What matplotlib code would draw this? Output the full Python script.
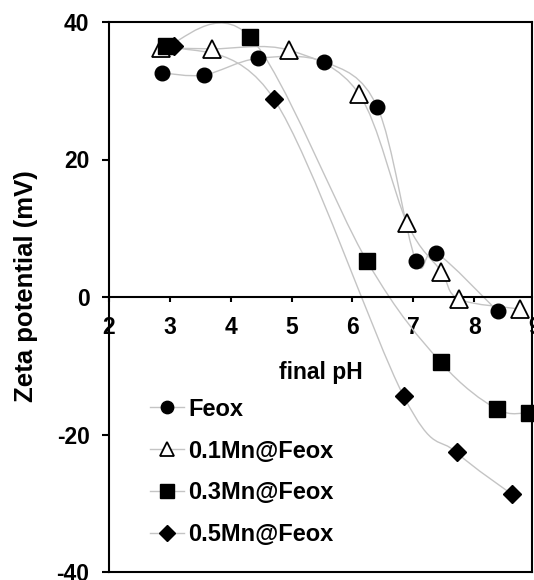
import numpy as np
import matplotlib
matplotlib.use('Agg')
import matplotlib.pyplot as plt
from matplotlib.path import Path
from matplotlib.patches import PathPatch
from matplotlib.lines import Line2D
import matplotlib.transforms as mtransforms

plt.rcParams['font.family'] = ['Liberation Sans', 'DejaVu Sans']
plt.rcParams['font.weight'] = 'bold'
plt.rcParams['axes.unicode_minus'] = False

# 측정값 (final pH, zeta potential mV)
ph_feox = [2.87, 3.56, 4.44, 5.54, 6.41, 7.04, 7.38, 8.39]
zp_feox = [32.6, 32.3, 34.7, 34.2, 27.6, 5.3, 6.4, -2.1]

ph_mn01 = [2.86, 3.69, 4.96, 6.11, 6.90, 7.46, 7.75, 8.75]
zp_mn01 = [36.2, 36.1, 35.9, 29.5, 10.7, 3.7, -0.3, -1.75]

ph_mn03 = [2.94, 4.32, 6.24, 7.45, 8.37, 8.90]
zp_mn03 = [36.5, 37.8, 5.2, -9.5, -16.3, -16.8]

ph_mn05 = [3.06, 4.71, 6.84, 7.71, 8.62]
zp_mn05 = [36.5, 28.8, -14.4, -22.6, -28.7]

labels = ['Feox', '0.1Mn@Feox', '0.3Mn@Feox', '0.5Mn@Feox']
x_ticks = [2, 3, 4, 5, 6, 7, 8]
y_ticks = [-40, -20, 0, 20, 40]

LINE_GRAY = '#c4c4c4'
TICK_FS = 16.5


# 엑셀 스타일 부드러운 곡선 (베지어)
def smooth_path(xs, ys):
    p = np.column_stack([xs, ys])
    n = len(p)
    verts = [p[0]]
    codes = [Path.MOVETO]
    for i in range(n - 1):
        p0 = p[max(i - 1, 0)]
        p1 = p[i]
        p2 = p[i + 1]
        p3 = p[min(i + 2, n - 1)]
        c1 = p1 + (p2 - p0) / 6.0
        c2 = p2 - (p3 - p1) / 6.0
        verts += [c1, c2, p2]
        codes += [Path.CURVE4] * 3
    return Path(verts, codes)


fig = plt.figure(figsize=(5.34, 5.80), dpi=100)
ax = fig.add_axes([109 / 534, 8 / 580, 423 / 534, 550 / 580])

series = [
    (ph_feox, zp_feox, dict(marker='o', ms=10.5, mfc='black', mec='black')),
    (ph_mn01, zp_mn01, dict(marker='^', ms=12.5, mfc='white', mec='black', mew=1.3)),
    (ph_mn03, zp_mn03, dict(marker='s', ms=11.5, mfc='black', mec='black')),
    (ph_mn05, zp_mn05, dict(marker='D', ms=9, mfc='black', mec='black')),
]

handles = []
for (xs, ys, st), lab in zip(series, labels):
    patch = PathPatch(smooth_path(xs, ys), facecolor='none', edgecolor=LINE_GRAY,
                      lw=1.0, zorder=2, clip_on=False)
    ax.add_patch(patch)
    ax.plot(xs, ys, linestyle='none', zorder=3, clip_on=False, **st)
    handles.append(Line2D([], [], color=LINE_GRAY, lw=1.0, **st))

ax.set_xlim(2, 8.95)
ax.set_ylim(-40, 40)

for s in ax.spines.values():
    s.set_linewidth(1.5)
ax.spines['bottom'].set_position(('data', 0))
ax.axhline(-40, color='black', lw=1.5, clip_on=False, zorder=5)

ax.set_xticks(x_ticks)
ax.set_yticks(y_ticks)
ax.tick_params(axis='x', direction='out', length=3.5, width=1.5, pad=10.5, labelsize=TICK_FS)
ax.tick_params(axis='y', direction='out', length=5, width=1.5, pad=9, labelsize=TICK_FS)
for t in ax.get_xticklabels() + ax.get_yticklabels():
    t.set_fontweight('bold')

# 잘린 9 눈금 라벨
off = mtransforms.offset_copy(ax.transData, fig=fig, x=0, y=-14, units='points')
ax.text(9, 0, '9', transform=off, ha='center', va='top', fontsize=TICK_FS,
        fontweight='bold', clip_on=False)

ax.set_xlabel('final pH', fontsize=16.5, fontweight='bold', labelpad=15.5)
ax.set_ylabel('Zeta potential (mV)', fontsize=18.5, fontweight='bold')
ax.yaxis.set_label_coords(-0.168, 0.52)

ax.legend(handles, labels, loc='upper left', bbox_to_anchor=(0.098, 0.317),
          frameon=False, borderpad=0, borderaxespad=0,
          handlelength=1.4, handletextpad=0.2, labelspacing=0.8,
          markerscale=0.85, prop={'weight': 'bold', 'size': 17})

fig.savefig('out.png', dpi=100)
